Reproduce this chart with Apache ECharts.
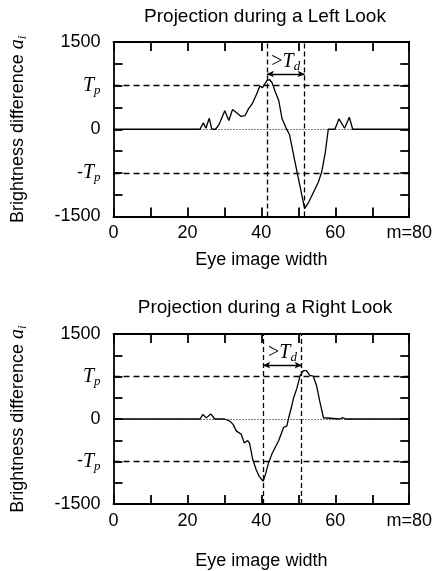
<!DOCTYPE html>
<html><head><meta charset="utf-8">
<script src="https://cdn.jsdelivr.net/npm/echarts@6/dist/echarts.min.js"></script>
<style>html,body{margin:0;padding:0;background:#fff}#c{width:435px;height:571px}</style>
</head><body><div id="c"></div>
<script>
// ---- data ----
const titles = ['Projection during a Left Look', 'Projection during a Right Look'];
const xName = 'Eye image width';
const xTickLabels = {0: '0', 20: '20', 40: '40', 60: '60', 80: 'm=80'};
const TP = 750;              // threshold T_p
const yLimit = 1500;
const leftX = [0, 23.4, 24.3, 25.0, 25.9, 26.6, 27.6, 28.5, 30.1, 31.2, 32.2, 33.4, 34.5, 35.6, 36.5, 37.5, 38.7, 39.6, 40.3, 41.5, 42.2, 42.9, 43.8, 44.7, 45.6, 46.7, 47.6, 49.6, 51.7, 52.8, 54.1, 55.4, 56.3, 57.3, 58.1, 59.9, 61.0, 62.5, 63.8, 64.7, 80];
const leftY = [0, 0, 110, 17, 190, 0, 0, 75, 320, 150, 340, 280, 220, 235, 350, 435, 600, 745, 715, 835, 855, 800, 636, 494, 179, 20, -90, -720, -1365, -1256, -1084, -912, -740, -396, 0, 0, 179, 17, 206, 0, 0];
const rightX = [0, 23.4, 24.2, 25.1, 26.3, 27.4, 30.0, 31.4, 32.3, 33.2, 33.8, 34.5, 35.4, 36.3, 36.8, 37.7, 38.6, 39.4, 40.5, 41.2, 41.9, 42.9, 43.8, 44.7, 46.0, 46.9, 47.4, 48.3, 48.7, 49.6, 50.5, 51.4, 52.2, 53.1, 54.0, 54.9, 55.8, 56.8, 57.1, 61.2, 62.0, 62.8, 80];
const rightY = [0, 0, 80, 20, 90, 0, 0, -35, -90, -210, -236, -265, -425, -380, -425, -725, -895, -1012, -1098, -955, -783, -610, -495, -380, -150, -120, 22, 252, 367, 540, 769, 855, 855, 769, 758, 597, 310, 22, 0, 0, 25, 0, 0];
const leftTd = [41.5, 51.7];
const rightTd = [40.5, 50.9];
const tdArrowY = 950;

// ---- chart ----
const SANS = 'Liberation Sans';
const SERIF = 'Liberation Serif';
const FS = 18;
const rich = {
  n: {fontFamily: SANS, fontSize: FS, color: '#000'},
  t: {fontFamily: SERIF, fontStyle: 'italic', fontSize: 20, color: '#000'},
  s: {fontFamily: SERIF, fontStyle: 'italic', fontSize: 13, color: '#000', padding: [10, 0, 0, 0]},
  g: {fontFamily: SERIF, fontSize: 20, color: '#000'}
};
const grids = [
  {left: 109, right: 24, top: 42, height: 174.5},
  {left: 110, right: 23.5, top: 334, height: 174}
];
const datasets = [[leftX, leftY, leftTd], [rightX, rightY, rightTd]];
const nameGaps = [35, 48];
const titleTops = [2, 293];

const xAxes = [], yAxes = [], series = [], titleArr = [];
const blk = {color: '#000', width: 1.8};
grids.forEach((g, i) => {
  titleArr.push({text: titles[i], left: 260, textAlign: 'center', top: titleTops[i],
    textStyle: {fontFamily: SANS, fontSize: 19, fontWeight: 'normal', color: '#000'}});
  xAxes.push({gridIndex: i, type: 'value', min: 0, max: 80, interval: 10, position: 'bottom',
    axisLine: {show: true, onZero: false, lineStyle: blk},
    axisTick: {show: true, inside: true, length: 9, lineStyle: blk},
    splitLine: {show: false},
    axisLabel: {show: true, margin: 8, color: '#000', fontFamily: SANS, fontSize: FS,
      formatter: v => xTickLabels[v] !== undefined ? xTickLabels[v] : ''},
    name: xName, nameLocation: 'middle', nameGap: nameGaps[i],
    nameTextStyle: {fontFamily: SANS, fontSize: FS, color: '#000'}});
  xAxes.push({gridIndex: i, type: 'value', min: 0, max: 80, interval: 10, position: 'top',
    axisLine: {show: true, onZero: false, lineStyle: blk},
    axisTick: {show: true, inside: true, length: 9, lineStyle: blk},
    splitLine: {show: false}, axisLabel: {show: false}});
  yAxes.push({gridIndex: i, type: 'value', min: -yLimit, max: yLimit, interval: 375, position: 'left',
    axisLine: {show: true, onZero: false, lineStyle: blk},
    axisTick: {show: true, inside: true, length: 9, lineStyle: blk},
    splitLine: {show: false},
    axisLabel: {show: true, margin: 13, color: '#000', fontFamily: SANS, fontSize: FS, rich: rich,
      formatter: v => {
        if (v === yLimit || v === -yLimit || v === 0) return '{n|' + v + '}';
        if (v === TP) return '{t|T}{s|p}';
        if (v === -TP) return '{n|-}{t|T}{s|p}';
        return '';
      }},
    name: '{n|Brightness difference }{t|a}{s|i}', nameLocation: 'middle', nameGap: 84, nameRotate: 90,
    nameTextStyle: {rich: rich}});
  yAxes.push({gridIndex: i, type: 'value', min: -yLimit, max: yLimit, interval: 375, position: 'right',
    axisLine: {show: true, onZero: false, lineStyle: blk},
    axisTick: {show: true, inside: true, length: 9, lineStyle: blk},
    splitLine: {show: false}, axisLabel: {show: false}});
  const [xs, ys, td] = datasets[i];
  const dash = {color: '#000', width: 1.3, type: [6, 4]};
  series.push({type: 'line', xAxisIndex: 2 * i, yAxisIndex: 2 * i,
    data: xs.map((x, k) => [x, ys[k]]), showSymbol: false, symbol: 'none',
    lineStyle: {color: '#000', width: 1.3}, animation: false, z: 3,
    markLine: {silent: true, symbol: 'none', animation: false, label: {show: false},
      data: [
        {yAxis: 0, lineStyle: {color: '#000', width: 1, type: [1, 2]}},
        {yAxis: TP, lineStyle: dash},
        {yAxis: -TP, lineStyle: dash},
        {xAxis: td[0], lineStyle: {color: '#000', width: 1.3, type: [5, 3]}},
        {xAxis: td[1], lineStyle: {color: '#000', width: 1.3, type: [5, 3]}},
        [{coord: [td[0], tdArrowY], symbol: 'arrow', symbolSize: [5, 7]},
         {coord: [td[1], tdArrowY], symbol: 'arrow', symbolSize: [5, 7],
          lineStyle: {color: '#000', width: 1.3, type: 'solid'},
          label: {show: true, position: 'middle', distance: 1, formatter: '{g|>}{t|T}{s|d}', rich: rich}}]
      ]}});
});

const chart = echarts.init(document.getElementById('c'), null, {renderer: 'canvas'});
chart.setOption({animation: false, backgroundColor: '#fff', title: titleArr, grid: grids,
  xAxis: xAxes, yAxis: yAxes, series: series});
</script></body></html>
